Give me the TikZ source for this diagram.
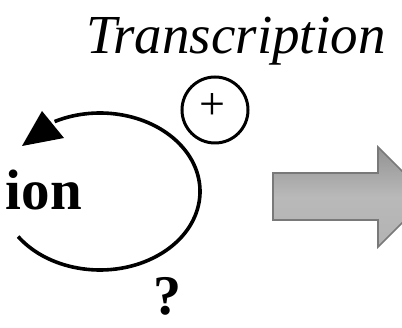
\documentclass[tikz,border=0pt]{standalone}
\usepackage{fontspec}
\setmainfont{Liberation Serif}
\begin{document}
\begin{tikzpicture}[x=1pt,y=-1pt,
  lbl/.style={inner sep=0pt,outer sep=0pt},
  loopline/.style={line width=3.6pt},
  bigarrow/.style={draw=gray!95!black,line width=1.6pt,top color=gray!85,bottom color=gray!60,middle color=gray!55}]
\useasboundingbox (0,0) rectangle (402,328);
\fill[white] (0,0) rectangle (402,328);
% title
\node[lbl,anchor=base west] (title) at (86,54) {\fontsize{55}{60}\selectfont\itshape Transcription};
% plus circle
\node[lbl,draw,circle,line width=3pt,minimum size=66pt] (plus) at (215,110) {};
\node[lbl] (plussign) at (212,107) {\fontsize{46}{50}\selectfont +};
% ion
\node[lbl,anchor=base east] (ion) at (82,210) {\fontsize{57}{60}\selectfont\bfseries ion};
% question mark
\node[lbl,anchor=base] (q) at (167,315) {\fontsize{56}{60}\selectfont\bfseries ?};
% loop
\coordinate (c) at (100,191.5);
\draw[loopline] (c) ++(145:100 and 78.5) arc[start angle=145,end angle=-117,x radius=100,y radius=78.5] coordinate (lend);
\coordinate (tip) at (22,146);
\coordinate (b1) at (42,111);
\coordinate (b2) at (64,138);
\fill (tip) -- (b1) -- (b2) -- cycle;
% gray arrow
\draw[bigarrow] (273,173) -- (378,173) -- (378,147) -- (428,197) -- (378,247) -- (378,220) -- (273,220) -- cycle;
\end{tikzpicture}
\end{document}
